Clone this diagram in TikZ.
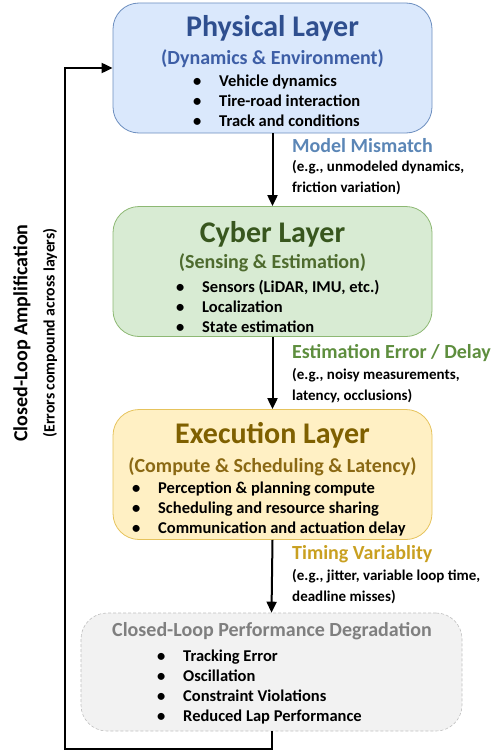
\documentclass[tikz,border=0pt]{standalone}
\usepackage{fontspec}
\setmainfont{Carlito}
\usetikzlibrary{arrows.meta}

\definecolor{physfill}{HTML}{DAE8FC}
\definecolor{physdraw}{HTML}{6C8EBF}
\definecolor{phystext}{HTML}{2F4F8F}
\definecolor{physsub}{HTML}{3D5EA6}
\definecolor{physnote}{HTML}{5B86B6}
\definecolor{cybfill}{HTML}{D8EBD3}
\definecolor{cybdraw}{HTML}{8DB873}
\definecolor{cybtext}{HTML}{38561E}
\definecolor{cybsub}{HTML}{4E6B2E}
\definecolor{cybnote}{HTML}{5E8E3E}
\definecolor{exefill}{HTML}{FFF0C4}
\definecolor{exedraw}{HTML}{E6C35C}
\definecolor{exetext}{HTML}{7F6000}
\definecolor{exesub}{HTML}{8B6914}
\definecolor{exenote}{HTML}{C9A021}
\definecolor{degfill}{HTML}{F2F2F2}
\definecolor{degdraw}{HTML}{BFBFBF}
\definecolor{degtext}{HTML}{7F7F7F}

\tikzset{
  layerbox/.style={draw, line width=0.8pt, rounded corners=26pt,
    minimum width=319pt, minimum height=130pt},
  ttl/.style={anchor=base, inner sep=0pt, font=\bfseries\fontsize{30}{34}\selectfont},
  subttl/.style={anchor=base, inner sep=0pt, font=\bfseries\fontsize{20}{24}\selectfont},
  items/.style={anchor=base west, inner sep=0pt, font=\bfseries\fontsize{16.5}{20}\selectfont},
  notehead/.style={anchor=base west, inner sep=0pt, font=\bfseries\fontsize{20}{24}\selectfont},
  notebody/.style={anchor=base west, inner sep=0pt, font=\bfseries\fontsize{15}{21}\selectfont},
  flow/.style={line width=2pt, -{Triangle[length=11pt,width=10pt]}}
}
\newcommand{\bul}{\makebox[26pt][l]{\textbullet}}

\begin{document}
\begin{tikzpicture}[x=1pt,y=-1pt]
\useasboundingbox (0,0) rectangle (501,752);
% layers
\node[layerbox, fill=physfill, draw=physdraw] (phys) at (272.5,68) {};
\node[ttl, text=phystext] (physttl) at (272.5,37) {Physical Layer};
\node[subttl, text=physsub] (physsub) at (272.5,64) {(Dynamics \& Environment)};
\node[items] (physitems) at (193,86) {\begin{tabular}[t]{@{}l@{}}
\bul Vehicle dynamics\\ \bul Tire-road interaction\\ \bul Track and conditions\end{tabular}};

\node[layerbox, fill=cybfill, draw=cybdraw] (cyber) at (272.5,271.5) {};
\node[ttl, text=cybtext] (cyberttl) at (272.5,242) {Cyber Layer};
\node[subttl, text=cybsub] (cybersub) at (272.5,268) {(Sensing \& Estimation)};
\node[items] (cyberitems) at (176,292) {\begin{tabular}[t]{@{}l@{}}
\bul Sensors (LiDAR, IMU, etc.)\\ \bul Localization\\ \bul State estimation\end{tabular}};

\node[layerbox, fill=exefill, draw=exedraw] (exec) at (272.5,474.5) {};
\node[ttl, text=exetext] (execttl) at (272.5,443) {Execution Layer};
\node[subttl, text=exesub] (execsub) at (272.5,472) {(Compute \& Scheduling \& Latency)};
\node[items] (execitems) at (132,493) {\begin{tabular}[t]{@{}l@{}}
\bul Perception \& planning compute\\ \bul Scheduling and resource sharing\\ \bul Communication and actuation delay\end{tabular}};

\node[layerbox, fill=degfill, draw=degdraw, line width=0.6pt, dash pattern=on 3pt off 2pt,
  minimum width=381pt, minimum height=118pt] (degr) at (271.5,672) {};
\node[subttl, text=degtext] (degrttl) at (272,636) {Closed-Loop Performance Degradation};
\node[items] (degritems) at (157,661) {\begin{tabular}[t]{@{}l@{}}
\bul Tracking Error\\ \bul Oscillation\\ \bul Constraint Violations\\ \bul Reduced Lap Performance\end{tabular}};

% error notes
\node[notehead, text=physnote] (mmhead) at (292,152) {Model Mismatch};
\node[notebody] (mmbody) at (292,171) {\begin{tabular}[t]{@{}l@{}}
(e.g., unmodeled dynamics,\\ friction variation)\end{tabular}};
\node[notehead, text=cybnote] (eehead) at (292,358) {Estimation Error / Delay};
\node[notebody] (eebody) at (292,379) {\begin{tabular}[t]{@{}l@{}}
(e.g., noisy measurements,\\ latency, occlusions)\end{tabular}};
\node[notehead, text=exenote] (tvhead) at (292,559) {Timing Variablity};
\node[notebody] (tvbody) at (292,580) {\begin{tabular}[t]{@{}l@{}}
(e.g., jitter, variable loop time,\\ deadline misses)\end{tabular}};

% loop label
\node[rotate=90, inner sep=0pt, font=\bfseries\fontsize{20}{24}\selectfont] (amp) at (22,333) {Closed-Loop Amplification};
\node[rotate=90, inner sep=0pt, font=\bfseries\fontsize{15.8}{19}\selectfont] (ampsub) at (50,333) {(Errors compound across layers)};

% flow
\draw[flow] (phys.south) -- (cyber.north);
\draw[flow] (cyber.south) -- (exec.north);
\draw[flow] (exec.south) -- (degr.north);
\coordinate (loopbl) at (65,749);
\draw[flow] (degr.south) |- (loopbl) |- (phys.west);
\end{tikzpicture}
\end{document}
